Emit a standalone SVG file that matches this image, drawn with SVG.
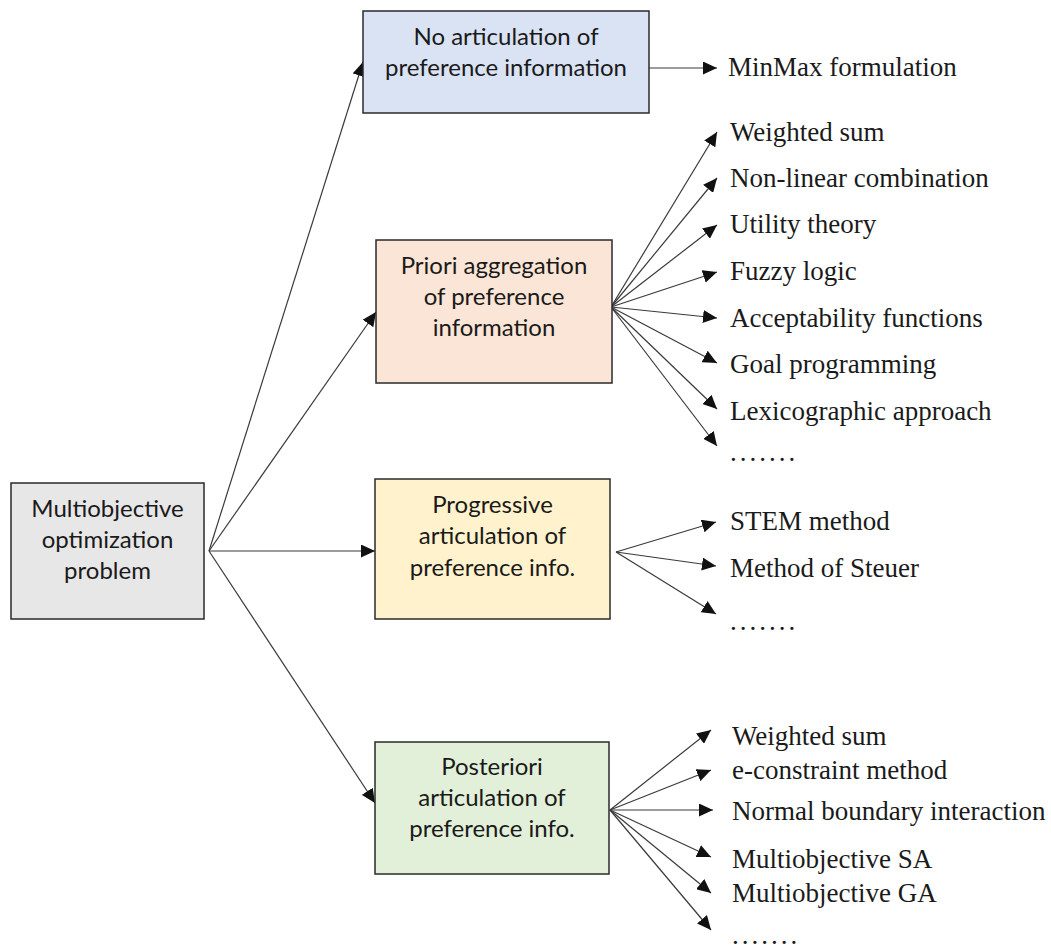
<svg xmlns="http://www.w3.org/2000/svg" width="1051" height="949" viewBox="0 0 1051 949">
  <defs>
    <marker id="arrow" markerUnits="userSpaceOnUse" markerWidth="15" markerHeight="13" refX="14" refY="6.5" orient="auto">
      <path d="M0,0 L14,6.5 L0,13 z" fill="#111"/>
    </marker>
    <style>
      .box { stroke: #2a2a2a; stroke-width: 1.5; }
      .lbl { font-family: Lato, "Open Sans", sans-serif; font-size: 24px; fill: #1a1a1a; text-anchor: middle; }
      .item { font-family: "Liberation Serif", "Times New Roman", serif; font-size: 27px; fill: #1a1a1a; }
      .dots { letter-spacing: 3px; }
      .edge { stroke: #3a3a3a; stroke-width: 1.2; fill: none; marker-end: url(#arrow); }
    </style>
  </defs>
  <rect width="1051" height="949" fill="#ffffff"/>

  <!-- connectors -->
  <g id="connectors">
    <!-- root to categories -->
    <line class="edge" x1="209" y1="551" x2="363" y2="62"/>
    <line class="edge" x1="209" y1="551" x2="376" y2="312"/>
    <line class="edge" x1="209" y1="551" x2="375" y2="551"/>
    <line class="edge" x1="209" y1="551" x2="375" y2="803"/>
    <!-- no articulation -->
    <line class="edge" x1="649" y1="68" x2="717" y2="68"/>
    <!-- priori -->
    <line class="edge" x1="611" y1="307" x2="717" y2="132"/>
    <line class="edge" x1="611" y1="307" x2="717" y2="178"/>
    <line class="edge" x1="611" y1="307" x2="717" y2="225"/>
    <line class="edge" x1="611" y1="307" x2="717" y2="272"/>
    <line class="edge" x1="611" y1="307" x2="717" y2="318"/>
    <line class="edge" x1="611" y1="307" x2="717" y2="363"/>
    <line class="edge" x1="611" y1="307" x2="717" y2="409"/>
    <line class="edge" x1="611" y1="307" x2="717" y2="446"/>
    <!-- progressive -->
    <line class="edge" x1="616" y1="552" x2="716" y2="522"/>
    <line class="edge" x1="616" y1="552" x2="716" y2="566"/>
    <line class="edge" x1="616" y1="552" x2="716" y2="614"/>
    <!-- posteriori -->
    <line class="edge" x1="610" y1="810" x2="711" y2="730"/>
    <line class="edge" x1="610" y1="810" x2="711" y2="770"/>
    <line class="edge" x1="610" y1="810" x2="713" y2="810"/>
    <line class="edge" x1="610" y1="810" x2="711" y2="857"/>
    <line class="edge" x1="610" y1="810" x2="711" y2="893"/>
    <line class="edge" x1="610" y1="810" x2="711" y2="930"/>
  </g>

  <!-- root -->
  <g id="root">
    <rect class="box" x="11" y="483" width="193" height="136" fill="#e7e7e7"/>
    <text class="lbl" x="107.5" y="517">Multiobjective</text>
    <text class="lbl" x="107.5" y="548">optimization</text>
    <text class="lbl" x="107.5" y="579">problem</text>
  </g>

  <!-- category: no articulation -->
  <g id="no-articulation">
    <rect class="box" x="363" y="11" width="286" height="102" fill="#dae3f3"/>
    <text class="lbl" x="506" y="45">No articulation of</text>
    <text class="lbl" x="506" y="76">preference information</text>
  </g>

  <!-- category: priori -->
  <g id="priori">
    <rect class="box" x="376" y="240" width="236" height="143" fill="#fbe5d6"/>
    <text class="lbl" x="494" y="274">Priori aggregation</text>
    <text class="lbl" x="494" y="305">of preference</text>
    <text class="lbl" x="494" y="336">information</text>
  </g>

  <!-- category: progressive -->
  <g id="progressive">
    <rect class="box" x="375" y="479" width="235" height="140" fill="#fff2cc"/>
    <text class="lbl" x="492.5" y="513">Progressive</text>
    <text class="lbl" x="492.5" y="544">articulation of</text>
    <text class="lbl" x="492.5" y="576">preference info.</text>
  </g>

  <!-- category: posteriori -->
  <g id="posteriori">
    <rect class="box" x="375" y="742" width="234" height="132" fill="#e2f0d9"/>
    <text class="lbl" x="492" y="775">Posteriori</text>
    <text class="lbl" x="492" y="806">articulation of</text>
    <text class="lbl" x="492" y="837">preference info.</text>
  </g>

  <!-- methods -->
  <g id="methods-none">
    <text class="item" x="728" y="76">MinMax formulation</text>
  </g>
  <g id="methods-priori">
    <text class="item" x="730" y="141">Weighted sum</text>
    <text class="item" x="730" y="187">Non-linear combination</text>
    <text class="item" x="730" y="233">Utility theory</text>
    <text class="item" x="730" y="280">Fuzzy logic</text>
    <text class="item" x="730" y="327">Acceptability functions</text>
    <text class="item" x="730" y="373">Goal programming</text>
    <text class="item" x="730" y="420">Lexicographic approach</text>
    <text class="item dots" x="730" y="461">.......</text>
  </g>
  <g id="methods-progressive">
    <text class="item" x="730" y="530">STEM method</text>
    <text class="item" x="730" y="577">Method of Steuer</text>
    <text class="item dots" x="730" y="630">.......</text>
  </g>
  <g id="methods-posteriori">
    <text class="item" x="732" y="745">Weighted sum</text>
    <text class="item" x="732" y="779">e-constraint method</text>
    <text class="item" x="732" y="820">Normal boundary interaction</text>
    <text class="item" x="732" y="868">Multiobjective SA</text>
    <text class="item" x="732" y="902">Multiobjective GA</text>
    <text class="item dots" x="732" y="944">.......</text>
  </g>
</svg>
